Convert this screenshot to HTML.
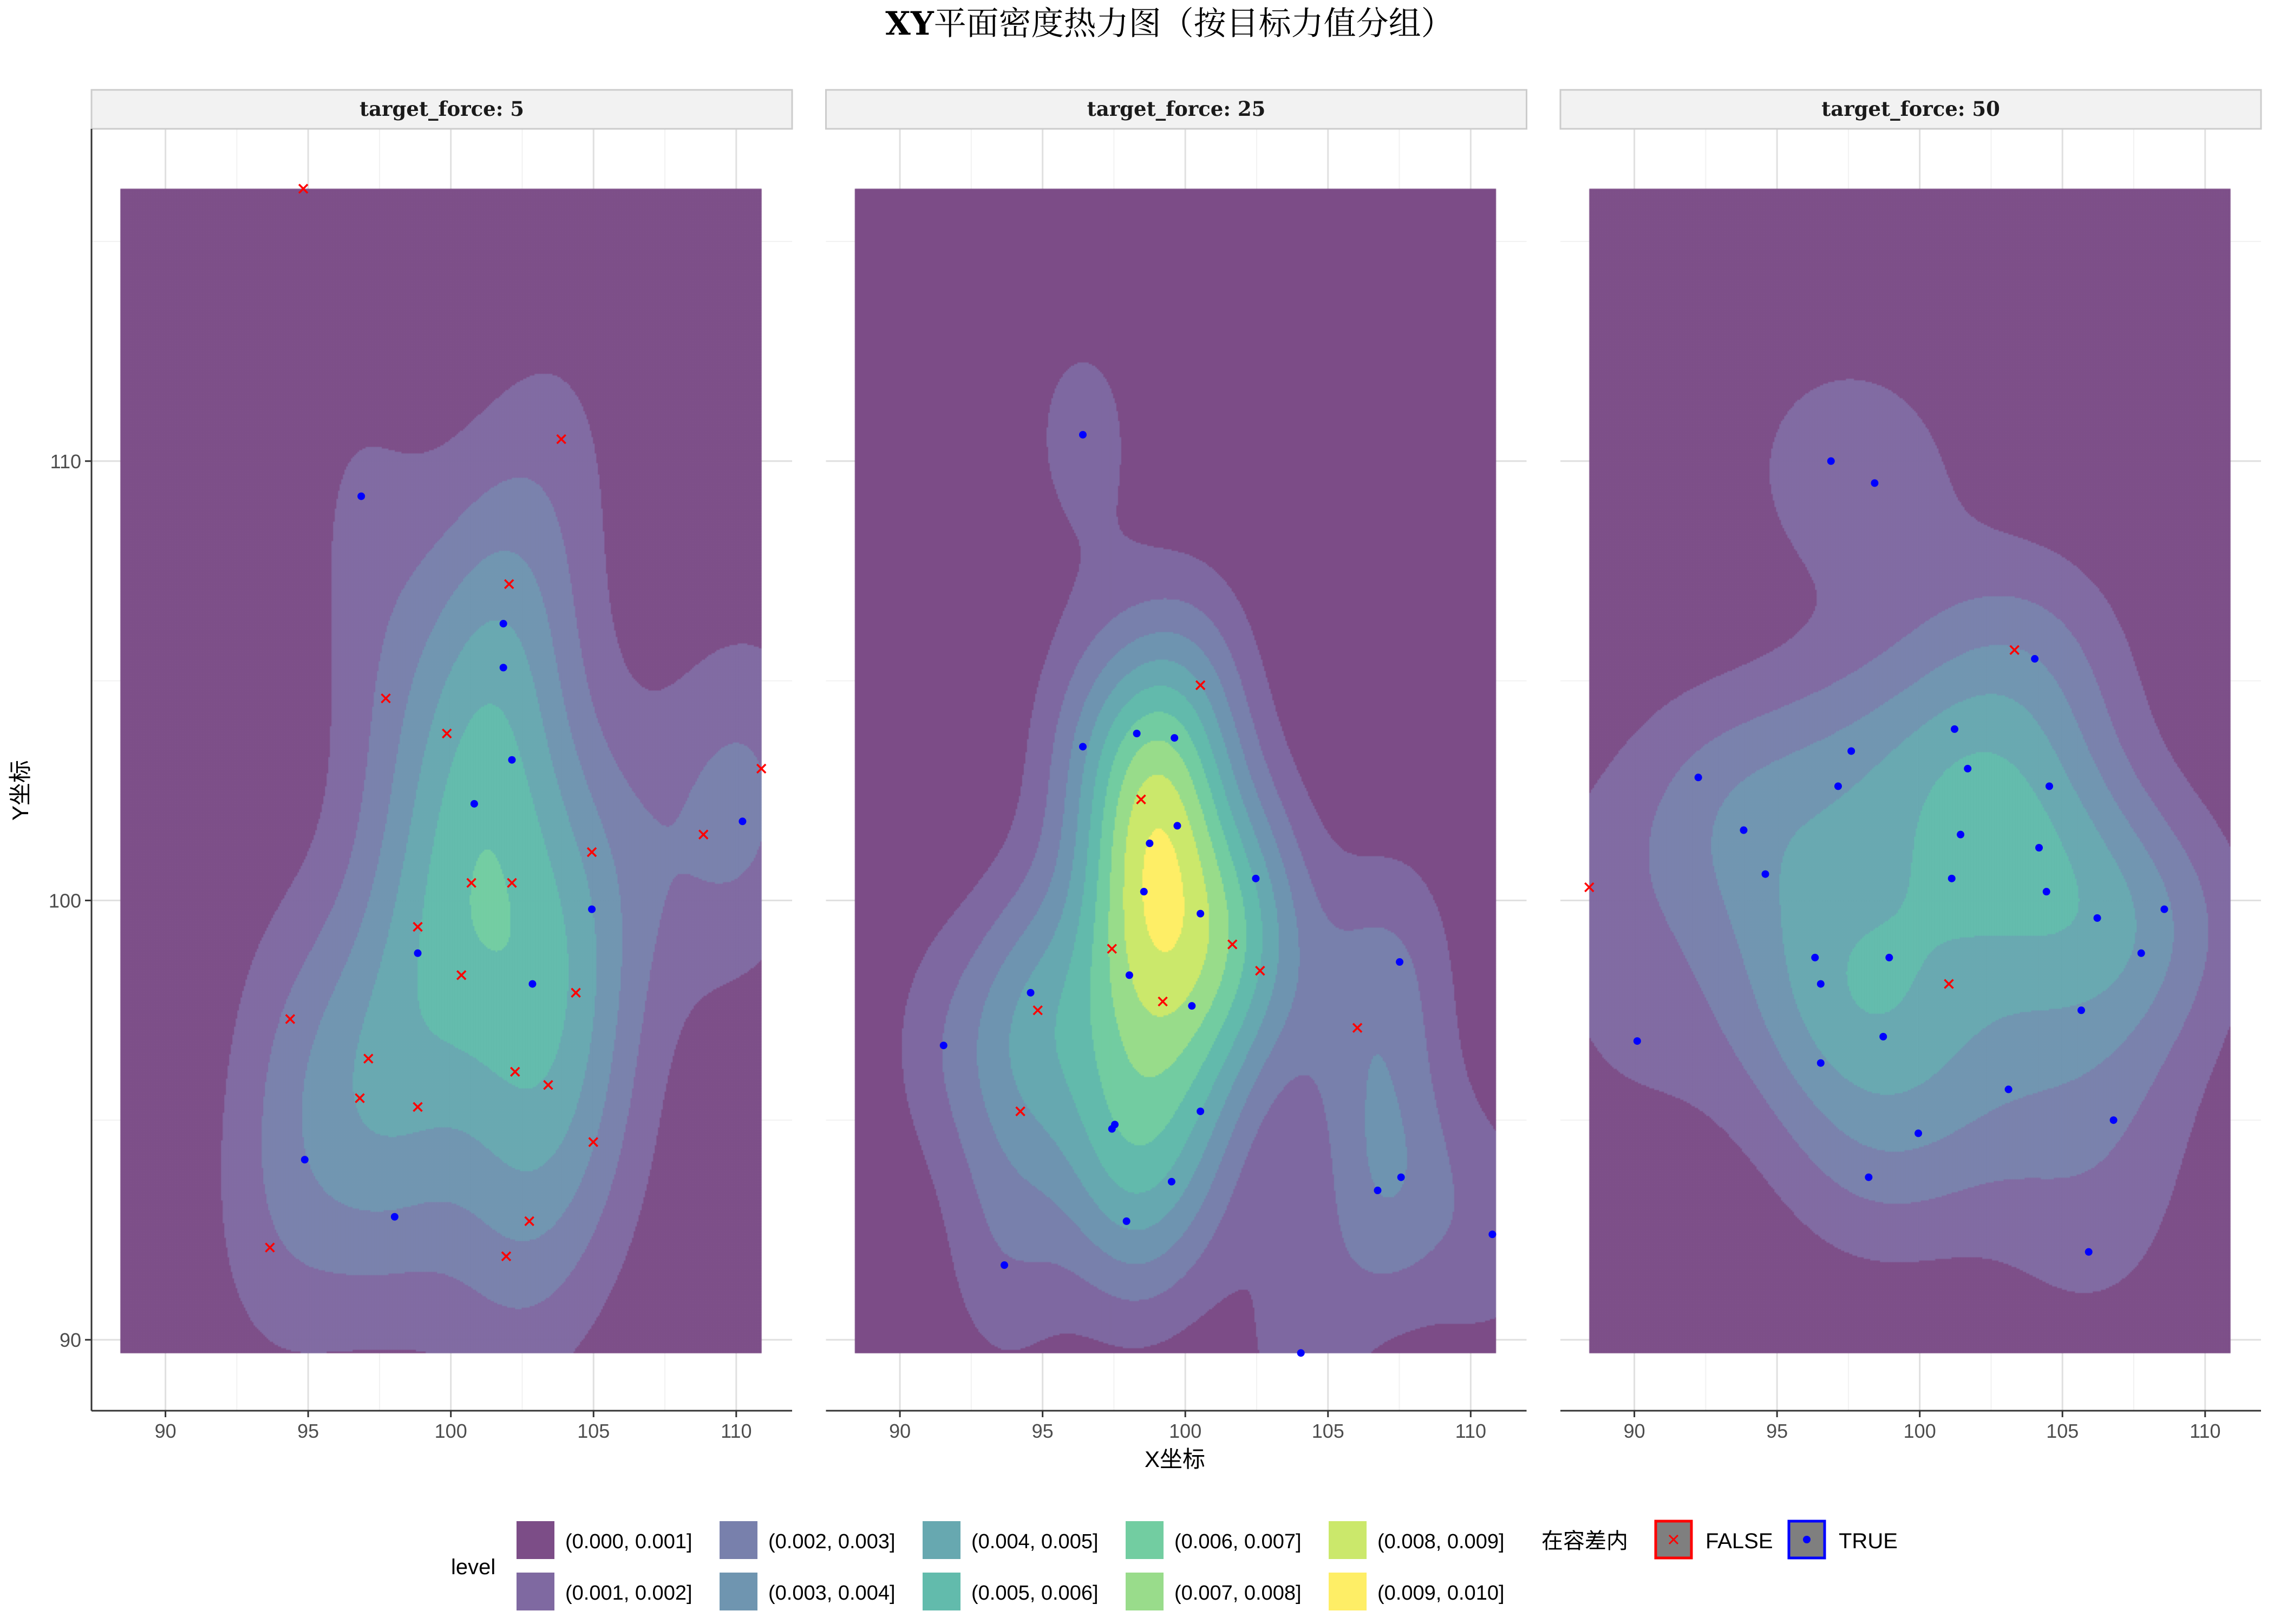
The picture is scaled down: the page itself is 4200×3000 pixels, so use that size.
<!DOCTYPE html>
<html><head><meta charset="utf-8">
<style>
body{margin:0;background:#fff;}
#wrap{position:relative;width:4200px;height:3000px;overflow:hidden;font-family:"Liberation Sans","Noto Sans CJK SC",sans-serif;}
svg,canvas{position:absolute;left:0;top:0;}
</style></head>
<body>
<div id="wrap">
<svg id="under" width="4200" height="3000"></svg>
<canvas id="cv" width="4200" height="3000"></canvas>
<svg id="over" width="4200" height="3000"></svg>
</div>
<script>
const panelLabels = ["target_force: 5","target_force: 25","target_force: 50"];
const p1x_false=[94.83,103.87,102.04,97.72,99.86,110.88,108.85,104.94,100.72,102.14,98.84,100.37,104.38,94.37,97.11,102.25,103.41,96.81,98.84,104.99,102.75,93.66,101.94];
const p1y_false=[116.2,110.5,107.2,104.6,103.8,103.0,101.5,101.1,100.4,100.4,99.4,98.3,97.9,97.3,96.4,96.1,95.8,95.5,95.3,94.5,92.7,92.1,91.9];
const p1x_true=[96.86,101.84,101.84,102.14,100.82,110.22,104.94,98.84,102.86,94.88,98.03];
const p1y_true=[109.2,106.3,105.3,103.2,102.2,101.8,99.8,98.8,98.1,94.1,92.8];
const p2x_false=[100.53,98.45,97.43,101.65,102.62,94.83,99.21,106.03,94.22];
const p2y_false=[104.9,102.3,98.9,99.0,98.4,97.5,97.7,97.1,95.2];
const p2x_true=[96.41,96.41,98.30,99.62,99.72,98.75,102.47,98.55,100.53,107.51,94.58,98.04,100.23,91.53,97.53,97.43,100.53,99.52,106.74,107.56,97.94,93.66,110.76,104.05];
const p2y_true=[110.6,103.5,103.8,103.7,101.7,101.3,100.5,100.2,99.7,98.6,97.9,98.3,97.6,96.7,94.9,94.8,95.2,93.6,93.4,93.7,92.7,91.7,92.4,89.7];
const p3x_false=[103.32,101.02,88.42];
const p3y_false=[105.7,98.1,100.3];
const p3x_true=[96.89,98.42,104.03,101.22,97.60,101.68,92.24,97.14,104.54,93.83,101.43,104.18,94.59,101.12,104.44,108.57,106.22,96.33,98.93,107.76,96.53,105.66,90.10,98.72,96.53,103.11,106.79,99.95,98.21,105.92];
const p3y_true=[110.0,109.5,105.5,103.9,103.4,103.0,102.8,102.6,102.6,101.6,101.5,101.2,100.6,100.5,100.2,99.8,99.6,98.7,98.7,98.8,98.1,97.5,96.8,96.9,96.3,95.7,95.0,94.7,93.7,92.0];
const xTicks=[90,95,100,105,110];
const yTicks=[90,100,110];
const levelLabels=["(0.000, 0.001]","(0.001, 0.002]","(0.002, 0.003]","(0.003, 0.004]","(0.004, 0.005]","(0.005, 0.006]","(0.006, 0.007]","(0.007, 0.008]","(0.008, 0.009]","(0.009, 0.010]"];
const viridis=["#440154","#482878","#3E4A89","#31688E","#26828E","#1F9E89","#35B779","#6DCD59","#B4DE2C","#FDE725"];

const panels=[[p1x_false,p1y_false,p1x_true,p1y_true],[p2x_false,p2y_false,p2x_true,p2y_true],[p3x_false,p3y_false,p3x_true,p3y_true]];
const NS="http://www.w3.org/2000/svg";
const under=document.getElementById('under'), over=document.getElementById('over');
function mk(parent,tag,attrs,text){const e=document.createElementNS(NS,tag);for(const k in attrs)e.setAttribute(k,attrs[k]);if(text!==undefined)e.textContent=text;parent.appendChild(e);return e;}
const panelLeft=[169,1525.5,2882], panelW=1294, plotTop=238, plotBot=2606;
function X(p,v){return panelLeft[p]+136.6+52.71*(v-90);}
function Y(v){return 1663.4-81.16*(v-100);}
function blend(hex){const r=parseInt(hex.substr(1,2),16),g=parseInt(hex.substr(3,2),16),b=parseInt(hex.substr(5,2),16);
 const f=c=>Math.round(0.7*c+0.3*255);return `rgb(${f(r)},${f(g)},${f(b)})`;}

const t=mk(over,'text',{x:2160,y:64,'text-anchor':'middle','font-size':60,'font-family':'"DejaVu Serif","Noto Serif CJK SC",serif','font-weight':'bold',fill:'#000'});

mk(t,'tspan',{},'XY');mk(t,'tspan',{'font-weight':'normal','font-family':'"Noto Serif CJK SC",serif'},'平面密度热力图（按目标力值分组）');

let allx=[],ally=[];panels.forEach(p=>{allx=allx.concat(p[0],p[2]);ally=ally.concat(p[1],p[3]);});
const xmin=Math.min(...allx),xmax=Math.max(...allx),ymin=Math.min(...ally),ymax=Math.max(...ally);

function quant(a,q){const s=[...a].sort((m,n)=>m-n);const h=(s.length-1)*q;const lo=Math.floor(h);return s[lo]+(h-lo)*((s[Math.min(lo+1,s.length-1)])-s[lo]);}
function bw(a){const n=a.length;const m=a.reduce((s,v)=>s+v,0)/n;const sd=Math.sqrt(a.reduce((s,v)=>s+(v-m)*(v-m),0)/(n-1));
 const iqr=(quant(a,0.75)-quant(a,0.25))/1.34;return 4*1.06*Math.min(sd,iqr)*Math.pow(n,-0.2);}

const ctx=document.getElementById('cv').getContext('2d');
for(let p=0;p<3;p++){
 const g=mk(under,'g',{});
 const L=panelLeft[p],R=L+panelW;
 [92.5,97.5,102.5,107.5].forEach(v=>mk(g,'line',{x1:X(p,v),x2:X(p,v),y1:plotTop,y2:plotBot,stroke:'#F2F2F2','stroke-width':2}));
 [95,105,115].forEach(v=>mk(g,'line',{x1:L,x2:R,y1:Y(v),y2:Y(v),stroke:'#F2F2F2','stroke-width':2}));
 xTicks.forEach(v=>mk(g,'line',{x1:X(p,v),x2:X(p,v),y1:plotTop,y2:plotBot,stroke:'#E0E0E0','stroke-width':3}));
 yTicks.forEach(v=>mk(g,'line',{x1:L,x2:R,y1:Y(v),y2:Y(v),stroke:'#E0E0E0','stroke-width':3}));
 const xs=panels[p][0].concat(panels[p][2]), ys=panels[p][1].concat(panels[p][3]);
 const n=xs.length,hx=bw(xs)/4,hy=bw(ys)/4;
 const x0=X(p,xmin),x1=X(p,xmax),y0=Y(ymax),y1=Y(ymin),st=3;
 const cols=Math.ceil((x1-x0)/st),rows=Math.ceil((y1-y0)/st);
 const gx=[],gy=[];
 for(let k=0;k<n;k++){const ax=new Float64Array(cols),ay=new Float64Array(rows);
  for(let i=0;i<cols;i++){const v=xmin+((i+0.5)*st)/(x1-x0)*(xmax-xmin);const z=(v-xs[k])/hx;ax[i]=Math.exp(-0.5*z*z)/Math.sqrt(2*Math.PI);}
  for(let j=0;j<rows;j++){const v=ymax-((j+0.5)*st)/(y1-y0)*(ymax-ymin);const z=(v-ys[k])/hy;ay[j]=Math.exp(-0.5*z*z)/Math.sqrt(2*Math.PI);}
  gx.push(ax);gy.push(ay);}
 const fills=viridis.map(c=>blend(c));
 for(let j=0;j<rows;j++){for(let i=0;i<cols;i++){let d=0;for(let k=0;k<n;k++)d+=gx[k][i]*gy[k][j];d/=n*hx*hy;
   let lv=Math.min(9,Math.max(0,Math.ceil(d/0.001)-1));ctx.fillStyle=fills[lv];
   const w=Math.min(st,x1-(x0+i*st)),h=Math.min(st,y1-(y0+j*st));ctx.fillRect(x0+i*st,y0+j*st,w+0.5,h+0.5);}}
 const s=mk(over,'g',{});
 mk(s,'rect',{x:L,y:166,width:panelW,height:72,fill:'#F2F2F2',stroke:'#CCCCCC','stroke-width':3});
 mk(s,'text',{x:L+panelW/2,y:214,'text-anchor':'middle','font-size':37,'font-weight':'bold','font-family':'"DejaVu Serif",serif',fill:'#1A1A1A'},panelLabels[p]);
 const pg=mk(over,'g',{});
 panels[p][0].forEach((v,i)=>{const cx=X(p,v),cy=Y(panels[p][1][i]),r=8;
  const m=mk(pg,'path',{d:`M${cx-r},${cy-r}L${cx+r},${cy+r}M${cx-r},${cy+r}L${cx+r},${cy-r}`,stroke:'#FF0000','stroke-width':3.5});
  });
 panels[p][2].forEach((v,i)=>{const m=mk(pg,'circle',{cx:X(p,v),cy:Y(panels[p][3][i]),r:7,fill:'#0000FF'});
  });
 const ax=mk(over,'g',{});
 mk(ax,'line',{x1:L,x2:R,y1:plotBot,y2:plotBot,stroke:'#333','stroke-width':3});
 xTicks.forEach(v=>{mk(ax,'line',{x1:X(p,v),x2:X(p,v),y1:plotBot,y2:plotBot+12,stroke:'#333','stroke-width':3});
  mk(ax,'text',{x:X(p,v),y:plotBot+50,'text-anchor':'middle','font-size':36,fill:'#4D4D4D'},v);});
}
const ya=mk(over,'g',{});
mk(ya,'line',{x1:169,x2:169,y1:plotTop,y2:plotBot,stroke:'#333','stroke-width':3});
yTicks.forEach(v=>{mk(ya,'line',{x1:157,x2:169,y1:Y(v),y2:Y(v),stroke:'#333','stroke-width':3});
 mk(ya,'text',{x:150,y:Y(v)+13,'text-anchor':'end','font-size':36,fill:'#4D4D4D'},v);});
const xt=mk(over,'text',{x:2170,y:2710,'text-anchor':'middle','font-size':42,fill:'#000'},'X坐标');

const yt=mk(over,'text',{x:0,y:0,transform:'translate(52,1460) rotate(-90)','text-anchor':'middle','font-size':42,fill:'#000'},'Y坐标');


const lg=mk(over,'g',{});
mk(lg,'text',{x:833,y:2908,'font-size':40,fill:'#000'},'level');
levelLabels.forEach((lab,i)=>{const col=Math.floor(i/2),row=i%2;const kx=954+col*375,ky=row?2905:2810;
 const e=mk(lg,'g',{});
 mk(e,'rect',{x:kx,y:ky,width:70,height:70,fill:blend(viridis[i])});
 mk(e,'text',{x:kx+90,y:ky+50,'font-size':38,fill:'#000'},lab);});
mk(lg,'text',{x:2847,y:2860,'font-size':40,fill:'#000'},'在容差内');
const ef=mk(lg,'g',{});
mk(ef,'rect',{x:3058,y:2810,width:66,height:68,fill:'#7F7F7F',stroke:'#FF0000','stroke-width':5});
mk(ef,'path',{d:'M3083,2836L3099,2852M3083,2852L3099,2836',stroke:'#FF0000','stroke-width':3});
mk(ef,'text',{x:3150,y:2860,'font-size':40,fill:'#000'},'FALSE');
const et=mk(lg,'g',{});
mk(et,'rect',{x:3304,y:2810,width:66,height:68,fill:'#7F7F7F',stroke:'#0000FF','stroke-width':5});
mk(et,'circle',{cx:3337,cy:2844,r:7,fill:'#0000FF'});
mk(et,'text',{x:3396,y:2860,'font-size':40,fill:'#000'},'TRUE');
</script>
</body></html>
